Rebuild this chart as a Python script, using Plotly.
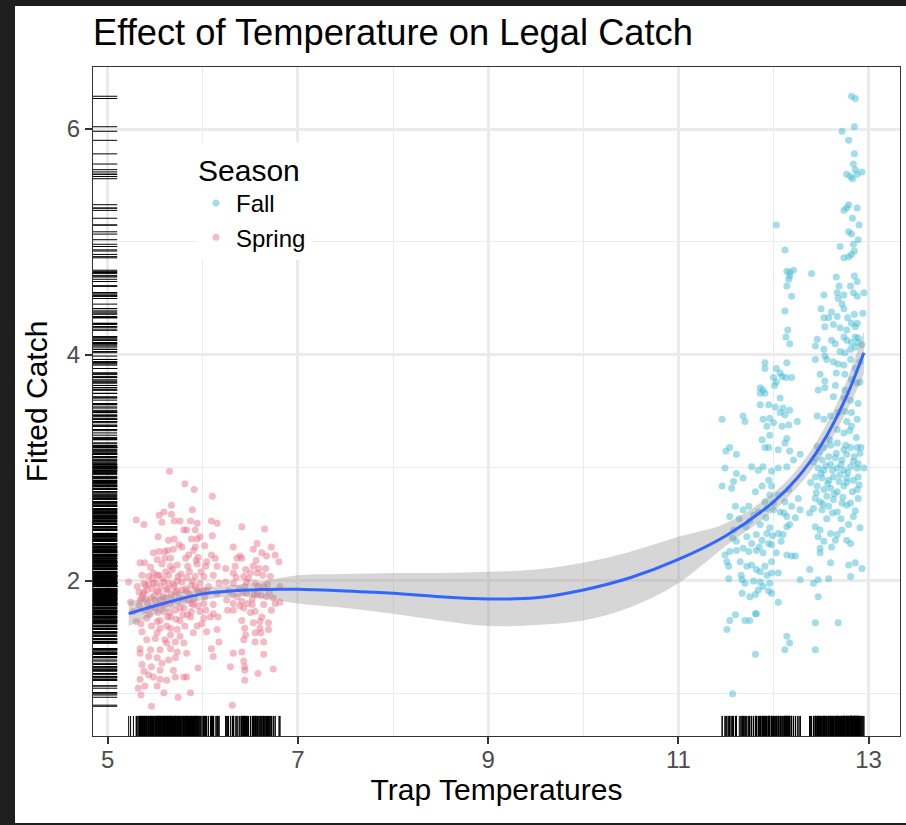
import plotly.graph_objects as go

# ---- data (temperature, fitted catch) ----
spring_points = [
    (5.65, 2.97), (5.81, 2.86), (5.91, 2.81), (6.10, 2.75), (5.67, 2.67), (5.89, 2.63), (5.59, 2.61), (5.54, 2.58),
    (5.67, 2.59), (5.30, 2.54), (5.38, 2.50), (5.57, 2.52), (5.70, 2.53), (5.76, 2.53), (5.87, 2.53), (5.94, 2.51),
    (6.09, 2.53), (6.15, 2.51), (6.41, 2.48), (6.65, 2.46), (5.83, 2.45), (5.92, 2.45), (5.80, 2.45), (5.53, 2.39),
    (5.64, 2.36), (5.70, 2.37), (5.88, 2.37), (5.94, 2.37), (6.10, 2.40), (5.97, 2.39), (6.02, 2.31), (5.92, 2.30),
    (5.75, 2.32), (5.78, 2.30), (5.63, 2.27), (5.48, 2.25), (5.54, 2.26), (5.60, 2.26), (5.69, 2.28), (6.32, 2.30),
    (6.53, 2.28), (6.57, 2.33), (6.72, 2.30), (6.62, 2.25), (6.67, 2.22), (6.76, 2.23), (6.39, 2.22), (6.36, 2.20),
    (6.41, 2.20), (6.09, 2.23), (6.13, 2.20), (5.85, 2.23), (5.95, 2.21), (5.60, 2.20), (5.52, 2.19), (5.39, 2.16),
    (5.34, 2.16), (5.66, 2.13), (5.73, 2.14), (5.84, 2.13), (5.94, 2.15), (6.03, 2.13), (6.15, 2.13), (6.24, 2.11),
    (6.34, 2.13), (6.45, 2.10), (6.53, 2.13), (6.59, 2.11), (6.80, 2.17), (6.66, 2.11), (6.71, 2.04), (6.57, 2.07),
    (5.36, 2.05), (5.43, 2.04), (5.48, 2.07), (5.54, 2.05), (5.64, 2.05), (5.74, 2.04), (5.83, 2.03), (5.92, 2.04),
    (6.01, 2.04), (6.11, 2.05), (6.32, 2.07), (6.43, 2.04), (5.22, 1.99), (5.38, 1.98), (5.48, 1.98), (5.59, 1.99),
    (5.69, 1.97), (5.78, 1.99), (5.88, 1.96), (5.97, 1.98), (6.06, 1.95), (6.17, 1.98), (6.24, 1.99), (6.32, 1.98),
    (6.46, 1.99), (6.55, 1.98), (6.64, 1.95), (6.81, 1.95), (5.41, 1.92), (5.52, 1.91), (5.62, 1.92), (5.73, 1.91),
    (5.83, 1.91), (5.94, 1.92), (6.04, 1.91), (6.15, 1.89), (6.27, 1.91), (6.36, 1.86), (6.46, 1.89), (6.57, 1.88),
    (6.67, 1.86), (5.24, 1.81), (5.34, 1.83), (5.46, 1.85), (5.55, 1.83), (5.66, 1.80), (5.74, 1.82), (5.85, 1.83),
    (5.90, 1.79), (6.01, 1.80), (6.11, 1.79), (6.25, 1.83), (6.32, 1.80), (6.41, 1.82), (6.52, 1.79), (6.64, 1.79),
    (6.76, 1.80), (6.81, 1.81), (5.27, 1.73), (5.39, 1.74), (5.50, 1.76), (5.59, 1.73), (5.71, 1.74), (5.80, 1.76),
    (5.88, 1.73), (5.97, 1.73), (6.11, 1.71), (6.26, 1.74), (6.32, 1.74), (6.43, 1.76), (6.55, 1.73), (6.72, 1.74),
    (5.30, 1.64), (5.41, 1.67), (5.55, 1.65), (5.66, 1.68), (5.76, 1.65), (5.87, 1.68), (6.01, 1.67), (6.08, 1.68),
    (6.16, 1.68), (6.41, 1.65), (6.53, 1.63), (6.60, 1.64), (6.69, 1.63), (5.46, 1.60), (5.55, 1.58), (5.62, 1.60),
    (5.73, 1.57), (5.81, 1.60), (5.94, 1.60), (6.04, 1.55), (6.15, 1.57), (6.44, 1.58), (6.60, 1.58), (6.69, 1.57),
    (5.36, 1.55), (5.52, 1.54), (5.66, 1.52), (5.76, 1.51), (5.90, 1.54), (6.45, 1.52), (6.55, 1.54), (6.61, 1.54),
    (5.41, 1.48), (5.50, 1.49), (5.60, 1.48), (5.71, 1.46), (5.80, 1.45), (6.43, 1.48), (6.55, 1.46), (6.64, 1.46),
    (5.34, 1.40), (5.45, 1.39), (5.55, 1.39), (5.66, 1.40), (5.73, 1.37), (6.09, 1.40), (6.17, 1.46), (6.32, 1.36),
    (6.41, 1.37), (6.64, 1.35), (5.34, 1.36), (5.43, 1.33), (5.52, 1.32), (5.64, 1.30), (5.71, 1.32), (5.83, 1.36),
    (6.11, 1.33), (6.43, 1.29), (5.36, 1.26), (5.46, 1.24), (5.57, 1.27), (5.69, 1.21), (5.95, 1.23), (6.29, 1.24),
    (6.44, 1.24), (6.74, 1.22), (5.38, 1.20), (5.43, 1.17), (5.55, 1.21), (5.71, 1.15), (5.80, 1.15), (5.83, 1.15),
    (6.44, 1.21), (6.58, 1.18), (5.34, 1.13), (5.48, 1.15), (5.55, 1.13), (5.62, 1.12), (6.44, 1.12), (5.32, 1.05),
    (5.39, 1.07), (5.52, 1.07), (5.35, 0.99), (5.59, 1.01), (5.74, 0.97), (5.87, 1.01), (5.46, 0.89), (6.31, 0.90),
    (5.33, 1.90), (5.31, 1.95), (5.33, 1.78), (5.37, 1.88), (5.40, 1.96), (5.42, 1.80), (5.44, 1.70), (5.47, 1.93),
    (5.49, 1.87), (5.51, 1.98), (5.53, 1.72), (5.56, 1.95), (5.58, 1.86), (5.60, 1.79), (5.61, 2.08), (5.63, 1.93),
    (5.65, 1.72), (5.67, 1.88), (5.68, 2.10), (5.70, 1.95), (5.72, 1.66), (5.75, 1.85), (5.77, 2.06), (5.79, 1.70),
    (5.82, 1.93), (5.86, 1.88), (5.89, 2.00), (5.91, 1.84), (5.93, 2.18), (5.96, 1.90), (5.99, 1.62), (6.02, 1.86),
    (6.04, 2.17), (5.35, 1.62), (5.36, 1.85), (5.45, 2.12), (5.57, 2.15), (5.62, 1.45), (5.66, 1.58), (5.52, 1.64),
    (6.38, 1.93), (6.48, 2.02), (6.50, 1.72), (6.58, 1.95), (6.62, 1.68), (6.70, 1.90), (6.52, 1.84), (6.44, 1.95),
    (5.38, 1.90), (5.40, 1.84), (5.43, 1.97), (5.45, 1.76), (5.47, 2.02), (5.50, 1.82), (5.52, 2.05), (5.54, 1.90),
    (5.56, 1.78), (5.58, 2.02), (5.61, 1.85), (5.63, 1.68), (5.64, 1.98), (5.66, 2.20), (5.68, 1.83), (5.71, 1.90),
    (5.73, 2.00), (5.76, 1.76), (5.78, 1.92), (5.80, 1.84), (5.82, 2.20), (5.84, 1.70), (5.86, 2.08), (5.88, 1.80),
    (5.90, 2.27), (5.92, 1.95), (5.95, 1.78), (5.98, 2.08), (6.00, 1.92), (6.03, 1.74), (6.31, 1.88), (6.35, 2.03),
    (6.39, 1.78), (6.42, 1.90), (6.47, 1.80), (6.50, 2.07), (6.54, 1.88), (6.56, 2.18), (6.61, 1.87), (6.63, 2.05),
    (6.68, 1.97), (6.74, 1.85),
]

fall_points = [
    (12.82, 6.29), (12.86, 6.27), (12.72, 5.98), (12.85, 6.02), (12.79, 5.90), (12.85, 5.78), (12.84, 5.69), (12.86, 5.64),
    (12.77, 5.60), (12.81, 5.58), (12.83, 5.56), (12.88, 5.60), (12.93, 5.62), (12.79, 5.33), (12.77, 5.30), (12.74, 5.28),
    (12.88, 5.30), (12.83, 5.21), (12.90, 5.15), (12.79, 5.09), (12.82, 5.07), (12.89, 5.02), (12.84, 4.98), (12.70, 4.96),
    (12.74, 4.86), (12.79, 4.87), (12.82, 4.89), (12.85, 4.92), (12.03, 5.15), (12.12, 4.93), (12.14, 4.74), (12.17, 4.73),
    (12.21, 4.75), (12.17, 4.70), (12.16, 4.67), (12.14, 4.61), (12.19, 4.52), (12.12, 4.39), (12.15, 4.22), (12.13, 4.16),
    (12.17, 4.10), (12.40, 4.72), (12.66, 4.69), (12.69, 4.61), (12.67, 4.55), (12.74, 4.53), (12.68, 4.50), (12.72, 4.45),
    (12.74, 4.41), (12.53, 4.53), (12.50, 4.41), (12.53, 4.33), (12.58, 4.33), (12.61, 4.38), (12.67, 4.34), (12.81, 4.61),
    (12.85, 4.70), (12.88, 4.65), (12.84, 4.55), (12.88, 4.52), (12.95, 4.55), (12.85, 4.36), (12.94, 4.37), (12.78, 4.33),
    (12.82, 4.28), (12.88, 4.28), (12.86, 4.25), (12.54, 4.25), (12.63, 4.27), (12.70, 4.24), (12.77, 4.22), (12.74, 4.16),
    (12.86, 4.16), (12.77, 4.13), (12.82, 4.11), (12.89, 4.15), (12.46, 4.14), (12.44, 4.08), (12.53, 4.05), (12.61, 4.13),
    (12.65, 4.10), (12.70, 4.03), (12.75, 4.02), (12.81, 4.05), (12.86, 4.07), (12.89, 4.11), (12.93, 4.09), (12.44, 3.96),
    (12.54, 3.99), (12.56, 3.96), (12.63, 3.94), (12.68, 3.92), (12.74, 3.91), (12.81, 3.96), (12.86, 3.88), (12.91, 3.94),
    (11.91, 3.93), (11.91, 3.88), (12.14, 3.93), (12.03, 3.88), (12.07, 3.84), (12.00, 3.80), (12.09, 3.81), (12.19, 3.80),
    (12.13, 3.80), (12.03, 3.76), (12.01, 3.73), (12.49, 3.83), (12.54, 3.77), (12.66, 3.84), (12.75, 3.83), (12.82, 3.78),
    (12.88, 3.75), (12.91, 3.76), (11.86, 3.71), (11.89, 3.69), (11.86, 3.66), (11.91, 3.66), (12.47, 3.69), (12.54, 3.71),
    (12.65, 3.73), (12.75, 3.69), (12.63, 3.63), (12.07, 3.62),
    (12.74, 3.62), (12.81, 3.60), (12.89, 3.57), (11.86, 3.56), (11.95, 3.56), (12.02, 3.54), (12.10, 3.53), (12.17, 3.51),
    (12.07, 3.49), (12.12, 3.47), (11.68, 3.46), (11.70, 3.41), (11.46, 3.43), (11.89, 3.43), (11.96, 3.44), (12.00, 3.40),
    (11.93, 3.37), (12.09, 3.37), (12.16, 3.38), (12.25, 3.41), (12.46, 3.46), (12.53, 3.43), (12.60, 3.46), (12.68, 3.49),
    (12.75, 3.50), (12.82, 3.49), (12.82, 3.37), (12.77, 3.41), (12.67, 3.34), (12.74, 3.31), (12.88, 3.43), (11.96, 3.29),
    (11.88, 3.25), (12.14, 3.26), (12.12, 3.22), (11.95, 3.18), (12.05, 3.16), (12.17, 3.15), (12.28, 3.12), (11.91, 3.18),
    (12.46, 3.19), (12.53, 3.18), (12.60, 3.20), (12.67, 3.22), (12.74, 3.16), (12.81, 3.18), (12.88, 3.18), (12.91, 3.13),
    (12.44, 3.09), (12.51, 3.07), (12.58, 3.10), (12.65, 3.09), (12.72, 3.07), (12.77, 3.12), (12.84, 3.06), (12.89, 3.04),
    (12.47, 3.00), (12.53, 2.98), (12.60, 3.03), (12.67, 3.00), (12.74, 2.98), (12.81, 3.01), (12.88, 3.00), (12.95, 3.00),
    (12.44, 2.92), (12.51, 2.91), (12.58, 2.89), (12.63, 2.92), (12.70, 2.94), (12.77, 2.91), (12.84, 2.89), (12.89, 2.92),
    (12.39, 2.87), (12.46, 2.84), (12.53, 2.81), (12.60, 2.82), (12.67, 2.79), (12.74, 2.84), (12.77, 2.87), (12.88, 2.81),
    (12.44, 2.73), (12.49, 2.70), (12.56, 2.75), (12.63, 2.72), (12.72, 2.69), (12.81, 2.69), (12.89, 2.73), (12.42, 2.64),
    (12.51, 2.63), (12.58, 2.66), (12.67, 2.61), (12.77, 2.67), (12.84, 2.57), (12.91, 2.47), (12.44, 2.48), (12.49, 2.45),
    (12.47, 2.39), (12.53, 2.35), (12.60, 2.42), (12.67, 2.41), (12.65, 2.36), (12.72, 2.45), (12.77, 2.36), (12.81, 2.33),
    (12.61, 2.30), (12.79, 2.14), (12.86, 2.16), (12.93, 2.11), (12.49, 2.29), (12.49, 2.25), (12.60, 2.16), (12.38, 2.10),
    (12.28, 2.01), (12.42, 1.98), (12.47, 2.01), (12.58, 2.02), (12.81, 2.04), (12.47, 1.86), (12.68, 1.63), (12.44, 1.63),
    (12.44, 1.39),
    (11.50, 3.15), (11.54, 3.18), (11.61, 3.12), (11.49, 3.00), (11.61, 2.95), (11.68, 2.91), (11.58, 2.88), (11.46, 2.84),
    (11.56, 2.82), (11.77, 3.01), (11.84, 2.98), (11.89, 3.01), (11.98, 2.97), (12.05, 3.00), (12.14, 3.01), (12.21, 3.07),
    (11.95, 2.89), (11.88, 2.84), (11.98, 2.84), (11.81, 2.79), (11.96, 2.76), (12.05, 2.76), (12.16, 2.81), (11.91, 2.70),
    (12.00, 2.69), (12.12, 2.70), (12.19, 2.66), (12.26, 2.73), (12.38, 2.60), (12.28, 2.63), (12.23, 2.56), (12.14, 2.57),
    (12.07, 2.61), (12.00, 2.63), (11.93, 2.64), (11.84, 2.61), (11.74, 2.66), (11.68, 2.63), (11.60, 2.66), (11.54, 2.57),
    (11.75, 2.53), (11.86, 2.50), (11.96, 2.47), (12.05, 2.42), (12.10, 2.41), (12.17, 2.50), (12.14, 2.48), (11.93, 2.42),
    (11.82, 2.41), (11.72, 2.39), (11.61, 2.35), (11.77, 2.33), (11.88, 2.36), (11.95, 2.33), (11.98, 2.32), (11.54, 2.26),
    (11.49, 2.23), (11.51, 2.17), (11.53, 2.13), (11.61, 2.27), (11.68, 2.29), (11.74, 2.26), (11.82, 2.27), (11.89, 2.25),
    (11.65, 2.17), (11.72, 2.13), (11.77, 2.14), (11.82, 2.10), (11.86, 2.08), (11.93, 2.05), (11.98, 2.07), (12.05, 2.07),
    (11.91, 2.13), (11.98, 2.17), (12.14, 2.23), (12.19, 2.22), (12.23, 2.22), (11.53, 2.02), (11.67, 2.01), (11.70, 1.98),
    (11.86, 1.99), (11.89, 1.95), (11.96, 1.98), (11.95, 1.91), (11.98, 1.89), (11.84, 1.92), (11.75, 1.86), (11.81, 1.88),
    (11.67, 1.89), (12.05, 1.81), (11.81, 1.71), (11.82, 1.71), (11.60, 1.70), (11.54, 1.65), (11.51, 1.57), (11.70, 1.65),
    (11.75, 1.65), (12.14, 1.51), (12.17, 1.45), (12.12, 1.39), (11.81, 1.35), (11.57, 1.00),
    (12.42, 3.05), (12.45, 2.78), (12.48, 3.14), (12.50, 2.95), (12.52, 2.68), (12.55, 3.02), (12.57, 2.86), (12.59, 3.25),
    (12.62, 2.98), (12.64, 2.77), (12.66, 3.13), (12.69, 2.88), (12.71, 3.03), (12.73, 2.74), (12.76, 3.20), (12.78, 2.96),
    (12.80, 3.33), (12.83, 2.79), (12.85, 3.10), (12.87, 3.27), (12.90, 2.85), (12.92, 3.18), (12.56, 2.55), (12.62, 2.60),
    (12.71, 2.55), (12.79, 2.50), (12.86, 2.62), (11.58, 2.45), (11.64, 2.55), (11.71, 2.48), (11.79, 2.58), (11.85, 2.30),
    (11.92, 2.56), (11.99, 2.40), (12.03, 2.25), (12.08, 2.35), (12.11, 2.60), (11.66, 2.05), (11.79, 2.00), (11.57, 2.38),
]

# fitted smooth curve and its confidence band
smooth_temp = [5.22, 5.5, 6.0, 6.5, 7.0, 7.5, 8.0, 8.5, 9.0, 9.5, 10.0, 10.5, 11.0, 11.5, 12.0, 12.25, 12.5, 12.75, 12.95]
smooth_fit = [1.71, 1.78, 1.885, 1.92, 1.925, 1.91, 1.89, 1.86, 1.84, 1.85, 1.92, 2.03, 2.19, 2.40, 2.70, 2.91, 3.20, 3.60, 4.02]
smooth_lo = [1.60, 1.70, 1.83, 1.86, 1.80, 1.76, 1.71, 1.65, 1.60, 1.61, 1.65, 1.77, 1.98, 2.31, 2.62, 2.83, 3.10, 3.47, 3.83]
smooth_hi = [1.82, 1.86, 1.94, 1.98, 2.05, 2.06, 2.07, 2.07, 2.08, 2.10, 2.16, 2.26, 2.39, 2.51, 2.78, 2.99, 3.30, 3.73, 4.21]

season_names = ["Fall", "Spring"]
title_text = "Effect of Temperature on Legal Catch"
x_title = "Trap Temperatures"
y_title = "Fitted Catch"

# ---- build ----
fall_temp = [p[0] for p in fall_points]
fall_catch = [p[1] for p in fall_points]
spring_temp = [p[0] for p in spring_points]
spring_catch = [p[1] for p in spring_points]

FONT = "Liberation Sans, Arial, Helvetica, sans-serif"
fig = go.Figure()

fig.add_trace(go.Scatter(x=fall_temp, y=fall_catch, mode="markers", name=season_names[0],
                         marker=dict(color="rgba(70,188,212,0.5)", size=7, line=dict(width=0))))
fig.add_trace(go.Scatter(x=spring_temp, y=spring_catch, mode="markers", name=season_names[1],
                         marker=dict(color="rgba(234,118,140,0.5)", size=7, line=dict(width=0))))

fig.add_trace(go.Scatter(x=smooth_temp, y=smooth_lo, mode="lines", line=dict(width=0, shape="spline"),
                         showlegend=False, hoverinfo="skip"))
fig.add_trace(go.Scatter(x=smooth_temp, y=smooth_hi, mode="lines", line=dict(width=0, shape="spline"),
                         fill="tonexty", fillcolor="rgba(153,153,153,0.4)", showlegend=False, hoverinfo="skip"))
fig.add_trace(go.Scatter(x=smooth_temp, y=smooth_fit, mode="lines",
                         line=dict(color="#3366FF", width=3, shape="spline"), showlegend=False))

all_temp = fall_temp + spring_temp
all_catch = fall_catch + spring_catch
rug_len = 0.03
rx, ry = [], []
for t in all_temp:
    rx += [t, t, None]
    ry += [0, rug_len, None]
fig.add_trace(go.Scatter(x=rx, y=ry, xaxis="x", yaxis="y2", mode="lines",
                         line=dict(color="black", width=1), showlegend=False, hoverinfo="skip"))
qx, qy = [], []
for c in all_catch:
    qx += [0, rug_len, None]
    qy += [c, c, None]
fig.add_trace(go.Scatter(x=qx, y=qy, xaxis="x2", yaxis="y", mode="lines",
                         line=dict(color="black", width=1), showlegend=False, hoverinfo="skip"))

W, H = 906, 825
ML, MR, MT, MB = 93, 6, 67, 89
pw, ph = W - ML - MR, H - MT - MB


def px_x(p):
    return (p - ML) / pw


def px_y(p):
    return (H - MB - p) / ph


dark = "#1f1f1f"
shapes = [
    dict(type="rect", xref="paper", yref="paper", x0=px_x(0), x1=px_x(15), y0=px_y(H), y1=px_y(0),
         fillcolor=dark, line=dict(width=0), layer="above"),
    dict(type="rect", xref="paper", yref="paper", x0=px_x(0), x1=px_x(W), y0=px_y(6), y1=px_y(0),
         fillcolor=dark, line=dict(width=0), layer="above"),
    dict(type="rect", xref="paper", yref="paper", x0=px_x(0), x1=px_x(W), y0=px_y(H), y1=px_y(823),
         fillcolor=dark, line=dict(width=0), layer="above"),
]

axis_common = dict(
    ticks="outside", ticklen=7, tickwidth=2, tickcolor="#333333",
    tickfont=dict(size=24, color="#4d4d4d", family=FONT),
    showgrid=True, gridcolor="#ebebeb", gridwidth=2.5,
    showline=True, linecolor="#333333", linewidth=1, mirror=True, zeroline=False,
)

fig.update_layout(
    width=W, height=H,
    margin=dict(l=ML, r=MR, t=MT, b=MB, pad=0),
    paper_bgcolor="white", plot_bgcolor="white",
    font=dict(family=FONT, color="black"),
    title=dict(text=title_text, font=dict(size=36.3, color="black", family=FONT),
               xref="paper", x=0, xanchor="left", yref="container", y=1 - 32 / H, yanchor="middle"),
    xaxis=dict(range=[4.845, 13.33], tick0=5, dtick=2, ticklabelstandoff=-5,
               minor=dict(dtick=1, tick0=5, showgrid=True, gridcolor="#ebebeb", gridwidth=1.2),
               title=dict(text=x_title, font=dict(size=30, color="black", family=FONT), standoff=7),
               **axis_common),
    yaxis=dict(range=[0.627, 6.549], tick0=2, dtick=2,
               minor=dict(dtick=1, tick0=1, showgrid=True, gridcolor="#ebebeb", gridwidth=1.2),
               title=dict(text=y_title, font=dict(size=30, color="black", family=FONT), standoff=10),
               **axis_common),
    xaxis2=dict(overlaying="x", range=[0, 1], visible=False),
    yaxis2=dict(overlaying="y", range=[0, 1], visible=False),
    legend=dict(x=px_x(196), y=px_y(142), xanchor="left", yanchor="top",
                bgcolor="white", borderwidth=0, traceorder="normal",
                title=dict(text="Season", font=dict(size=30, color="black", family=FONT)),
                font=dict(size=24, color="black", family=FONT)),
    shapes=shapes,
    showlegend=True,
)

fig.write_html("out.html")
